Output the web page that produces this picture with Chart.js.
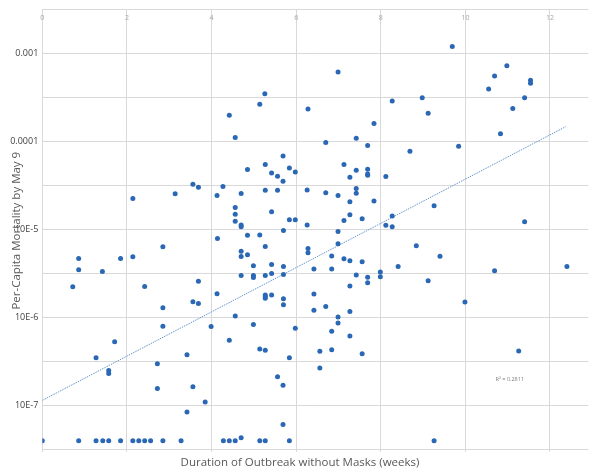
<!DOCTYPE html>
<html><head><meta charset="utf-8">
<script src="https://cdn.jsdelivr.net/npm/chart.js@4.4.0/dist/chart.umd.min.js"></script>
<style>html,body{margin:0;padding:0;background:#fff;} #wrap{width:591px;height:471px;}</style>
</head><body><div id="wrap"><canvas id="c" width="591" height="471"></canvas></div>
<script>
// Duration of outbreak without masks (weeks)
const weeks = [
  9.69, 6.99, 10.98, 10.69, 11.54, 11.54, 10.55, 5.26, 8.98, 11.40,
  8.27, 5.14, 6.28, 11.12, 9.12, 4.42, 7.84, 10.83, 4.56, 7.42,
  6.70, 7.69, 9.84, 8.69, 5.69, 5.27, 7.13, 4.85, 5.84, 7.42,
  7.69, 5.42, 5.98, 7.69, 7.69, 5.56, 7.27, 8.12, 5.69, 3.56,
  3.69, 4.27, 5.27, 5.56, 6.26, 7.42, 4.70, 3.14, 6.70, 7.42,
  4.13, 6.99, 2.14, 7.27, 7.84, 9.26, 4.56, 5.42, 4.56, 7.27,
  8.27, 7.56, 5.84, 5.98, 7.13, 4.56, 11.40, 4.70, 4.70, 6.26,
  8.12, 8.27, 5.70, 6.99, 4.85, 5.14, 4.14, 6.99, 8.84, 5.27,
  2.85, 6.28, 4.70, 6.28, 4.85, 4.70, 6.84, 9.40, 0.86, 1.85,
  2.14, 7.13, 7.27, 7.56, 4.99, 5.42, 5.70, 8.41, 12.40, 6.42,
  6.84, 0.86, 10.69, 1.42, 7.99, 5.42, 5.70, 4.70, 4.99, 4.99,
  5.27, 7.42, 7.99, 7.69, 7.69, 9.12, 3.69, 0.72, 2.42, 7.27,
  4.13, 6.42, 5.27, 5.27, 5.27, 5.42, 5.70, 3.56, 3.69, 9.99,
  5.70, 6.70, 2.85, 6.42, 7.27, 4.56, 6.99, 6.99, 4.99, 2.85,
  3.99, 5.98, 6.84, 7.27, 4.42, 1.71, 5.14, 5.27, 6.56, 6.84,
  11.26, 7.56, 3.42, 1.27, 5.84, 2.72, 6.56, 1.57, 1.57, 5.56,
  5.69, 3.56, 2.72, 3.85, 3.42, 5.69,
  0.00, 0.86, 1.27, 1.43, 1.57, 1.85, 2.14, 2.28, 2.42, 2.56,
  2.85, 3.28, 4.28, 4.42, 4.56, 4.70, 5.14, 5.27, 5.84, 9.26
];
// Per-capita mortality by May 9
const mortality = [
  1.20e-3, 6.16e-4, 7.25e-4, 5.55e-4, 4.96e-4, 4.59e-4, 3.96e-4, 3.48e-4, 3.14e-4, 3.14e-4,
  2.88e-4, 2.66e-4, 2.34e-4, 2.38e-4, 2.09e-4, 1.99e-4, 1.60e-4, 1.23e-4, 1.11e-4, 1.09e-4,
  9.76e-5, 9.03e-5, 8.86e-5, 7.79e-5, 6.84e-5, 5.51e-5, 5.51e-5, 4.81e-5, 5.01e-5, 4.72e-5,
  4.84e-5, 4.40e-5, 4.52e-5, 4.29e-5, 4.15e-5, 4.04e-5, 3.93e-5, 4.01e-5, 3.55e-5, 3.28e-5,
  3.04e-5, 3.09e-5, 2.81e-5, 2.81e-5, 2.83e-5, 2.94e-5, 2.58e-5, 2.55e-5, 2.62e-5, 2.60e-5,
  2.45e-5, 2.45e-5, 2.26e-5, 2.07e-5, 2.11e-5, 1.87e-5, 1.79e-5, 1.60e-5, 1.50e-5, 1.48e-5,
  1.43e-5, 1.33e-5, 1.30e-5, 1.30e-5, 1.27e-5, 1.25e-5, 1.23e-5, 1.13e-5, 1.08e-5, 1.13e-5,
  1.12e-5, 1.08e-5, 9.82e-6, 9.52e-6, 8.63e-6, 8.69e-6, 7.94e-6, 6.92e-6, 6.57e-6, 6.45e-6,
  6.40e-6, 6.12e-6, 5.69e-6, 5.48e-6, 5.20e-6, 4.96e-6, 5.03e-6, 4.98e-6, 4.72e-6, 4.72e-6,
  4.94e-6, 4.69e-6, 4.45e-6, 4.34e-6, 3.91e-6, 4.04e-6, 3.81e-6, 3.81e-6, 3.81e-6, 3.59e-6,
  3.59e-6, 3.50e-6, 3.41e-6, 3.35e-6, 3.32e-6, 3.18e-6, 3.10e-6, 3.02e-6, 3.02e-6, 2.86e-6,
  3.02e-6, 3.07e-6, 2.92e-6, 2.89e-6, 2.50e-6, 2.63e-6, 2.60e-6, 2.25e-6, 2.27e-6, 2.29e-6,
  1.88e-6, 1.86e-6, 1.81e-6, 1.74e-6, 1.67e-6, 1.81e-6, 1.65e-6, 1.52e-6, 1.45e-6, 1.51e-6,
  1.41e-6, 1.34e-6, 1.30e-6, 1.22e-6, 1.18e-6, 1.05e-6, 1.02e-6, 8.75e-7, 8.39e-7, 8.03e-7,
  7.97e-7, 7.63e-7, 7.06e-7, 6.20e-7, 5.56e-7, 5.35e-7, 4.42e-7, 4.28e-7, 4.17e-7, 4.33e-7,
  4.20e-7, 3.91e-7, 3.81e-7, 3.53e-7, 3.53e-7, 3.02e-7, 2.70e-7, 2.52e-7, 2.33e-7, 2.14e-7,
  1.72e-7, 1.65e-7, 1.58e-7, 1.11e-7, 8.56e-8, 6.16e-8,
  4.03e-8, 4.03e-8, 4.03e-8, 4.03e-8, 4.03e-8, 4.03e-8, 4.03e-8, 4.03e-8, 4.03e-8, 4.03e-8,
  4.03e-8, 4.03e-8, 4.03e-8, 4.03e-8, 4.03e-8, 4.36e-8, 4.03e-8, 4.03e-8, 4.03e-8, 4.03e-8
];
// Exponential trendline end points
const trendWeeks = [0, 12.37];
const trendMortality = [1.156e-7, 1.476e-4];
const r2Label = "R\u00B2 = 0.2811";
const r2Position = [11.05, 2.0e-7];

const xTickValues = [0, 2, 4, 6, 8, 10, 12];
const yTickValues = [3.1623e-8, 1e-7, 3.1623e-7, 1e-6, 3.1623e-6, 1e-5, 3.1623e-5, 1e-4, 3.1623e-4, 1e-3, 3.1623e-3];
const yTickLabels = ["", "10E-7", "", "10E-6", "", "10E-5", "", "0.0001", "", "0.001", ""];
const xTitle = "Duration of Outbreak without Masks (weeks)";
const yTitle = "Per-Capita Mortality by May 9";

const X_MIN = 0, X_MAX = 12.91, Y_MIN = 3.1623e-8, Y_MAX = 3.1623e-3;
const FONT = "'Open Sans', 'Liberation Sans', sans-serif";

const points = weeks.map((w, i) => ({x: w, y: mortality[i]}));
const trend = trendWeeks.map((w, i) => ({x: w, y: trendMortality[i]}));

const r2Plugin = {
  id: 'r2',
  afterDatasetsDraw(chart) {
    const ctx = chart.ctx;
    const px = chart.scales.x.getPixelForValue(r2Position[0]);
    const py = chart.scales.y.getPixelForValue(r2Position[1]);
    ctx.save();
    ctx.font = "5.5px " + FONT;
    ctx.fillStyle = '#7f7f7f';
    ctx.textAlign = 'center';
    ctx.textBaseline = 'middle';
    ctx.fillText(r2Label, px, py);
    ctx.restore();
  }
};

new Chart(document.getElementById('c'), {
  type: 'scatter',
  data: {
    datasets: [
      {
        label: 'Mortality',
        data: points,
        backgroundColor: '#2a67b4',
        borderColor: '#2a67b4',
        borderWidth: 0,
        pointRadius: 2.5,
        pointHoverRadius: 2.5
      },
      {
        type: 'line',
        label: 'Trend',
        data: trend,
        showLine: true,
        borderColor: '#6596cf',
        borderWidth: 1,
        borderDash: [1.5, 1],
        pointRadius: 0,
        fill: false
      }
    ]
  },
  options: {
    responsive: false,
    animation: false,
    layout: {padding: {left: 9, top: 9, right: 0, bottom: 0}},
    plugins: {
      legend: {display: false},
      tooltip: {enabled: false},
      title: {
        display: true,
        position: 'bottom',
        text: xTitle,
        color: '#595959',
        font: {family: FONT, size: 11.5, weight: 'normal'},
        padding: {top: 4, bottom: 1.2}
      }
    },
    scales: {
      x: {
        type: 'linear',
        position: {y: Y_MAX},
        min: X_MIN,
        max: X_MAX,
        afterBuildTicks: (s) => { s.ticks = xTickValues.map(v => ({value: v})); },
        ticks: {
          color: '#a6a6a6',
          font: {family: FONT, size: 7},
          padding: 4.3,
          maxRotation: 0,
          callback: (v) => String(v)
        },
        grid: {color: '#d9d9d9', lineWidth: 1, drawTicks: false},
        border: {display: false}
      },
      y: {
        type: 'logarithmic',
        position: 'left',
        min: Y_MIN,
        max: Y_MAX,
        afterBuildTicks: (s) => { s.ticks = yTickValues.map(v => ({value: v})); },
        afterFit: (s) => { s.width = 33.3; },
        ticks: {
          color: '#404040',
          font: {family: FONT, size: 9},
          padding: 4,
          autoSkip: false,
          callback: (v, i) => yTickLabels[i]
        },
        grid: {color: '#d9d9d9', lineWidth: 1, drawTicks: false},
        border: {display: false},
        title: {
          display: true,
          text: yTitle,
          color: '#595959',
          font: {family: FONT, size: 11.5, weight: 'normal'},
          padding: {top: 1, bottom: 0}
        }
      }
    }
  },
  plugins: [r2Plugin]
});
</script>
</body></html>
